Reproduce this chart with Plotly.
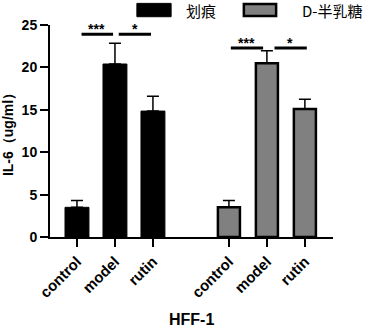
import plotly.graph_objects as go

# ---- data ----
categories = ["control", "model", "rutin"]
group_names = ["划痕", "D-半乳糖"]
scratch_pos = [0, 1, 2]
galactose_pos = [4, 5, 6]
scratch_values = [3.5, 20.4, 14.85]
scratch_err_top = [4.3, 22.85, 16.6]
galactose_values = [3.5, 20.5, 15.1]
galactose_err_top = [4.3, 21.95, 16.25]

sig_x0 = [0.12, 1.1, 4.05, 5.2]
sig_x1 = [0.95, 1.95, 4.9, 6.05]
sig_y = [23.9, 23.9, 22.3, 22.3]
sig_text = ["***", "*", "***", "*"]
sig_text_x = [0.52, 1.52, 4.47, 5.62]

tick_vals = scratch_pos + galactose_pos
tick_text = categories + categories
y_ticks = [0, 5, 10, 15, 20, 25]

FONT = "Liberation Sans, Arial, sans-serif"

fig = go.Figure()
fig.add_trace(go.Bar(
    x=scratch_pos, y=scratch_values, width=0.63,
    marker=dict(color="#000000", line=dict(color="#000000", width=1)),
    error_y=dict(type="data", symmetric=False,
                 array=[e - v for e, v in zip(scratch_err_top, scratch_values)],
                 arrayminus=[0] * 3, color="#000000", thickness=1.5, width=6),
    showlegend=False, name=group_names[0]))
fig.add_trace(go.Bar(
    x=galactose_pos, y=galactose_values, width=0.58,
    marker=dict(color="#808080", line=dict(color="#000000", width=2.5)),
    error_y=dict(type="data", symmetric=False,
                 array=[e - v for e, v in zip(galactose_err_top, galactose_values)],
                 arrayminus=[0] * 3, color="#000000", thickness=1.5, width=6),
    showlegend=False, name=group_names[1]))

shapes = []
annotations = []
for x0, x1, y, t, tx in zip(sig_x0, sig_x1, sig_y, sig_text, sig_text_x):
    shapes.append(dict(type="line", xref="x", yref="y", x0=x0, x1=x1, y0=y, y1=y,
                       line=dict(color="#000000", width=3)))
    annotations.append(dict(x=tx, y=y, xref="x", yref="y", text="<b>" + t + "</b>",
                            showarrow=False, yanchor="bottom", yshift=-5,
                            font=dict(family=FONT, size=14, color="#000000")))

# custom legend
shapes.append(dict(type="rect", xref="paper", yref="paper", x0=0.307, x1=0.428,
                   y0=1.039, y1=1.102, fillcolor="#000000", line=dict(color="#000000", width=1)))
shapes.append(dict(type="rect", xref="paper", yref="paper", x0=0.685, x1=0.799,
                   y0=1.042, y1=1.099, fillcolor="#808080", line=dict(color="#000000", width=2.5)))
annotations.append(dict(x=0.472, y=1.07, xref="paper", yref="paper", text=group_names[0],
                        showarrow=False, xanchor="left", yanchor="middle",
                        font=dict(family="Noto Sans CJK SC", size=15, color="#000000")))
annotations.append(dict(x=0.883, y=1.07, xref="paper", yref="paper", text=group_names[1],
                        showarrow=False, xanchor="left", yanchor="middle",
                        font=dict(family="Noto Sans CJK SC", size=15, color="#000000")))
# axis titles
annotations.append(dict(x=-0.148, y=0.5, xref="paper", yref="paper",
                        text="<b>IL-6（ug/ml）</b>", textangle=-90, showarrow=False,
                        xanchor="center", yanchor="middle",
                        font=dict(family=FONT, size=14, color="#000000")))
annotations.append(dict(x=0.5, y=-0.39, xref="paper", yref="paper",
                        text="<b>HFF-1</b>", showarrow=False,
                        xanchor="center", yanchor="middle",
                        font=dict(family=FONT, size=16, color="#000000")))

fig.update_layout(
    width=370, height=329,
    margin=dict(l=50, r=37, t=25, b=92),
    plot_bgcolor="white", paper_bgcolor="white",
    barmode="overlay",
    shapes=shapes, annotations=annotations,
    font=dict(family=FONT, color="#000000"),
    xaxis=dict(range=[-0.71, 6.74], tickvals=tick_vals, ticktext=tick_text,
               tickangle=-45, ticks="outside", ticklen=8, tickwidth=2,
               tickcolor="#000000", showline=True, linecolor="#000000", linewidth=2,
               showgrid=False, zeroline=False, automargin=False,
               tickfont=dict(family=FONT, size=15, weight="bold", color="#000000")),
    yaxis=dict(range=[0, 25], tickvals=y_ticks, ticks="outside", ticklen=8,
               tickwidth=2, tickcolor="#000000", showline=True, linecolor="#000000",
               linewidth=2, showgrid=False, zeroline=False, automargin=False,
               tickfont=dict(family=FONT, size=14, weight="bold", color="#000000")),
)

# remove the browser's default 8px body margin so the figure fills the window
fig.write_html("out.html", config={"displayModeBar": False},
               post_script="document.body.style.margin='0';document.body.style.overflow='hidden';")
